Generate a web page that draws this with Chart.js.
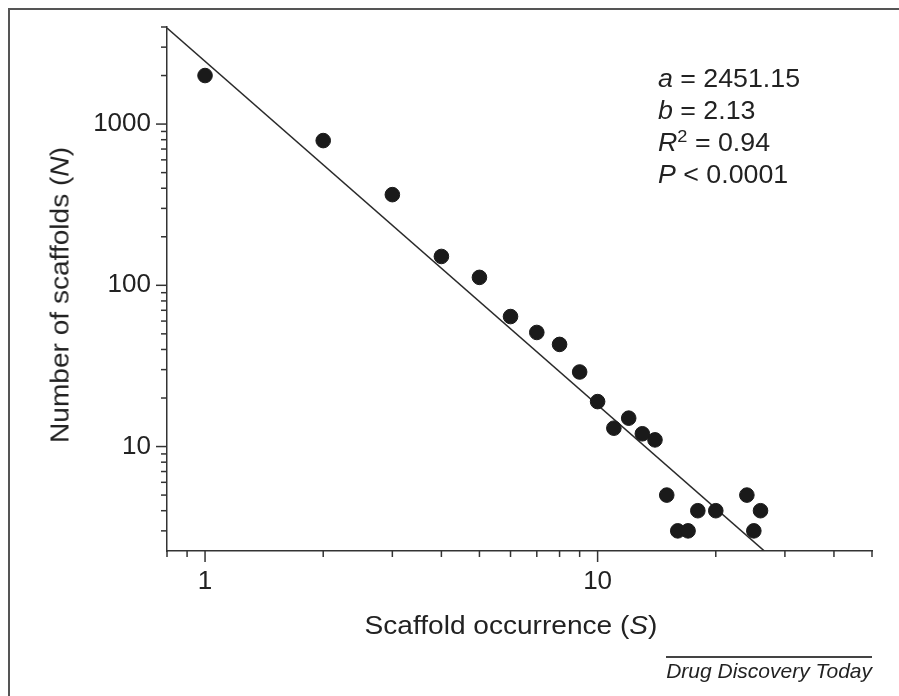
<!DOCTYPE html>
<html>
<head>
<meta charset="utf-8">
<script src="https://cdn.jsdelivr.net/npm/chart.js@4.4.0/dist/chart.umd.min.js"></script>
<style>
  html, body { margin: 0; padding: 0; background: #fff; overflow: hidden; }
  body { width: 899px; height: 696px; position: relative; font-family: "Liberation Sans", Arial, Helvetica, sans-serif; color: #222; }
  #frame { position: absolute; left: 8px; top: 8px; width: 1000px; height: 1000px; border: 2px solid #555; }
  #chart { position: absolute; left: 0; top: 0; }
  .txt { position: absolute; white-space: nowrap; }
  #xTitle { left: 511px; top: 625px; font-size: 26px; transform: translate(-50%, -50%) scaleX(1.08); }
  #yTitle { left: 60px; top: 295px; font-size: 26px; transform: translate(-50%, -50%) rotate(-90deg) scaleX(1.08); }
  #stats { left: 658px; top: 62px; font-size: 25px; line-height: 32px; transform-origin: left top; transform: scaleX(1.07); }
  #footer { right: 27px; top: 656px; font-size: 21px; font-style: italic; border-top: 2px solid #444; padding-top: 1px; }
</style>
</head>
<body>
<div id="frame"></div>
<canvas id="chart" width="899" height="696"></canvas>
<div class="txt" id="xTitle">Scaffold occurrence (<i>S</i>)</div>
<div class="txt" id="yTitle">Number of scaffolds (<i>N</i>)</div>
<div class="txt" id="stats">
  <div><i>a</i> = 2451.15</div>
  <div><i>b</i> = 2.13</div>
  <div><i>R</i><sup style="font-size:17px;line-height:0">2</sup> = 0.94</div>
  <div><i>P</i> &lt; 0.0001</div>
</div>
<div class="txt" id="footer">Drug Discovery Today</div>
<script>
// Data
const occurrence = [1, 2, 3, 4, 5, 6, 7, 8, 9, 10, 11, 12, 13, 14, 15, 16, 17, 18, 20, 24, 25, 26];
const scaffolds = [2000, 790, 365, 151, 112, 64, 51, 43, 29, 19, 13, 15, 12, 11, 5, 3, 3, 4, 4, 5, 3, 4];

// Power-law fit (a = 2451.15, b = 2.13), endpoints at the plot edges
const fitX = [0.8, 26.6];
const fitY = [3943, 2.25];

// Tick positions
const xTicks = [0.8, 0.9, 1, 2, 3, 4, 5, 6, 7, 8, 9, 10, 20, 30, 40, 50];
const yTicks = [3, 4, 5, 6, 7, 8, 9, 10, 20, 30, 40, 50, 60, 70, 80, 90, 100,
  200, 300, 400, 500, 600, 700, 800, 900, 1000, 2000, 3000, 4000];
const xMajor = [1, 10];
const yMajor = [10, 100, 1000];

const axisColor = '#333';
const tickFont = { family: '"Liberation Sans", Arial, sans-serif', size: 26 };

// draw tick marks outside the axes, long for decades
const tickMarks = {
    id: 'tickMarks',
    afterDraw(chart) {
        const ctx = chart.ctx;
        const { x, y } = chart.scales;
        ctx.save();
        ctx.strokeStyle = axisColor;
        ctx.lineWidth = 1.5;
        x.ticks.forEach(t => {
            const px = x.getPixelForValue(t.value);
            const len = xMajor.includes(t.value) ? 11 : 6;
            ctx.beginPath();
            ctx.moveTo(px, x.top);
            ctx.lineTo(px, x.top + len);
            ctx.stroke();
        });
        y.ticks.forEach(t => {
            const py = y.getPixelForValue(t.value);
            const len = yMajor.includes(t.value) ? 11 : 6;
            ctx.beginPath();
            ctx.moveTo(y.right, py);
            ctx.lineTo(y.right - len, py);
            ctx.stroke();
        });
        ctx.restore();
    }
};

const ctx = document.getElementById('chart').getContext('2d');
const chart = new Chart(ctx, {
    type: 'scatter',
    data: {
        datasets: [
            {
                label: 'Scaffolds',
                data: occurrence.map((s, i) => ({ x: s, y: scaffolds[i] })),
                backgroundColor: '#1a1a1a',
                borderColor: '#1a1a1a',
                pointRadius: 7.3,
                pointHoverRadius: 7.3
            },
            {
                label: 'Fit',
                type: 'line',
                data: fitX.map((s, i) => ({ x: s, y: fitY[i] })),
                borderColor: '#2a2a2a',
                borderWidth: 1.6,
                pointRadius: 0,
                fill: false
            }
        ]
    },
    options: {
        responsive: false,
        animation: false,
        layout: { padding: { top: 27, right: 27, left: 0, bottom: 0 } },
        plugins: {
            legend: { display: false },
            tooltip: { enabled: false }
        },
        scales: {
            x: {
                type: 'logarithmic',
                min: 0.8,
                max: 50,
                afterBuildTicks: s => { s.ticks = xTicks.map(v => ({ value: v })); },
                afterFit: s => { s.height = 145; },
                grid: { drawOnChartArea: false, drawTicks: true, tickLength: 10, tickColor: 'rgba(0,0,0,0)' },
                border: { display: true, color: axisColor, width: 1.5 },
                ticks: {
                    autoSkip: false,
                    maxRotation: 0,
                    padding: 5,
                    color: '#222',
                    font: tickFont,
                    callback: v => xMajor.includes(v) ? String(v) : ''
                }
            },
            y: {
                type: 'logarithmic',
                min: 2.25,
                max: 4000,
                afterBuildTicks: s => { s.ticks = yTicks.map(v => ({ value: v })); },
                afterFit: s => { s.width = 167; },
                grid: { drawOnChartArea: false, drawTicks: true, tickLength: 10, tickColor: 'rgba(0,0,0,0)' },
                border: { display: true, color: axisColor, width: 1.5 },
                ticks: {
                    autoSkip: false,
                    padding: 6,
                    color: '#222',
                    font: tickFont,
                    callback: v => yMajor.includes(v) ? String(v) : ''
                }
            }
        }
    },
    plugins: [tickMarks]
});
</script>
</body>
</html>
